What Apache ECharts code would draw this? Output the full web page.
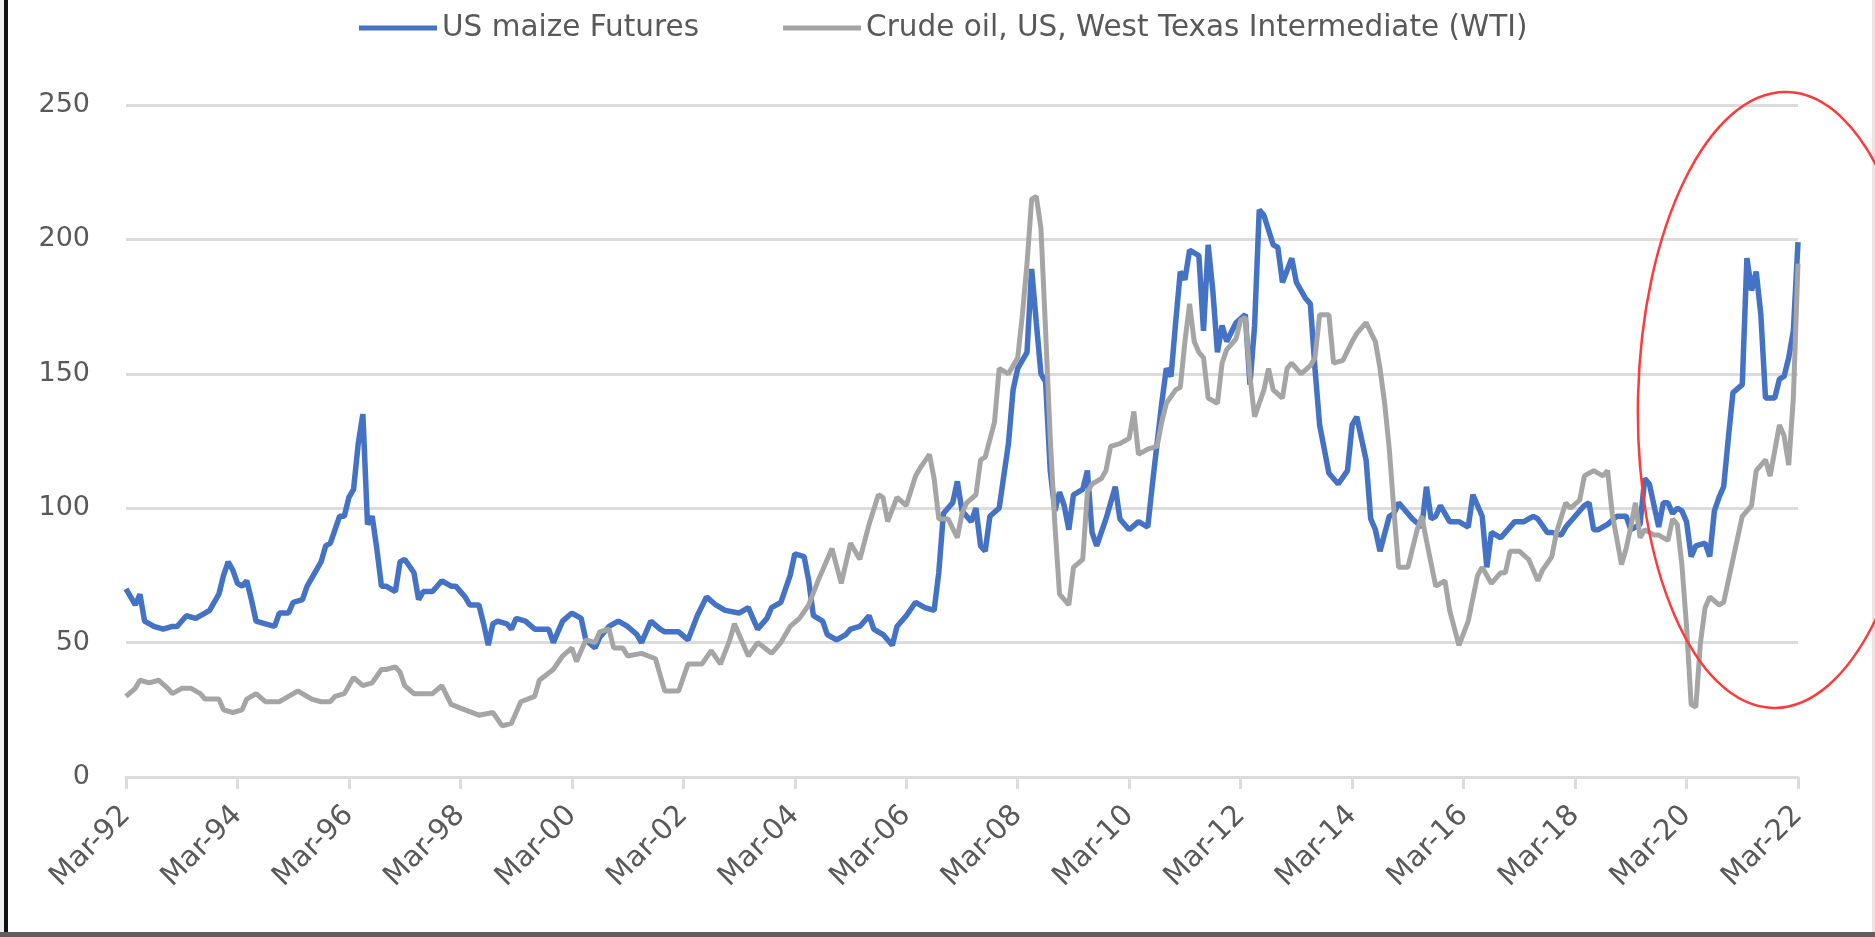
<!DOCTYPE html>
<html>
<head>
<meta charset="utf-8">
<title>US maize futures vs WTI crude oil</title>
<script src="https://cdn.jsdelivr.net/npm/echarts@6/dist/echarts.min.js"></script>
<style>
  html, body { margin: 0; padding: 0; background: #ffffff; }
  #chart { width: 1875px; height: 937px; }
</style>
</head>
<body>
<div id="chart"></div>
<script>
// Index values; x = months elapsed since March 1992
const seriesNames = ['US maize Futures', 'Crude oil, US, West Texas Intermediate (WTI)'];

const tickLabels = ['Mar-92', 'Mar-94', 'Mar-96', 'Mar-98', 'Mar-00', 'Mar-02', 'Mar-04', 'Mar-06',
  'Mar-08', 'Mar-10', 'Mar-12', 'Mar-14', 'Mar-16', 'Mar-18', 'Mar-20', 'Mar-22'];

const maize = [
  [0,70],[2,64],[3,68],[4,58],[6,56],[8,55],[10,56],[11,56],[13,60],[15,59],[17,61],[18,62],
  [20,68],[21,75],[22,80],[23,77],[24,72],[25,71],[26,73],[27,66],[28,58],[30,57],[32,56],[33,61],
  [35,61],[36,65],[38,66],[39,71],[40,74],[42,80],[43,86],[44,87],[46,97],[47,97],[48,104],[49,107],
  [50,124],[51,135],[52,94],[53,97],[54,85],[55,71],[56,71],[58,69],[59,80],[60,81],[62,76],[63,66],
  [64,69],[66,69],[68,73],[70,71],[71,71],[73,67],[74,64],[76,64],[77,57],[78,49],[79,57],[80,58],
  [82,57],[83,55],[84,59],[86,58],[88,55],[91,55],[92,50],[94,58],[96,61],[98,59],[99,51],[101,48],
  [102,52],[104,56],[106,58],[108,56],[110,53],[111,50],[113,58],[115,55],[116,54],[119,54],[121,51],
  [123,60],[125,67],[127,64],[129,62],[132,61],[134,63],[136,55],[138,59],[139,63],[141,65],[143,75],
  [144,83],[146,82],[147,73],[148,60],[150,58],[151,53],[153,51],[155,53],[156,55],[158,56],[160,60],
  [161,55],[163,53],[165,49],[166,56],[168,60],[170,65],[172,63],[174,62],[175,76],[176,98],[178,102],
  [179,110],[180,99],[182,95],[183,100],[184,86],[185,84],[186,97],[188,100],[190,124],[191,144],
  [192,152],[193,155],[194,158],[195,189],[196,169],[197,150],[198,147],[199,114],[200,99],[201,106],
  [202,101],[203,92],[204,105],[206,107],[207,114],[208,91],[209,86],[211,96],[213,108],[214,96],
  [216,92],[218,95],[220,93],[221,109],[223,139],[224,152],[225,149],[226,169],[227,188],[228,185],
  [229,196],[231,194],[232,166],[233,198],[234,181],[235,158],[236,168],[237,162],[239,169],[241,172],
  [242,146],[243,168],[244,211],[245,209],[247,198],[248,197],[249,184],[251,193],[252,184],[254,178],
  [255,176],[256,152],[257,131],[258,122],[259,113],[261,109],[263,114],[264,131],[265,134],[267,118],
  [268,96],[269,92],[270,84],[272,97],[273,98],[274,102],[276,98],[277,96],[279,93],[280,108],[281,96],
  [282,97],[283,101],[285,95],[287,95],[289,93],[290,105],[292,97],[293,78],[294,91],[296,89],[297,91],
  [299,95],[301,95],[302,96],[303,97],[304,96],[306,91],[307,91],[309,90],[310,93],[312,97],[314,101],
  [315,102],[316,92],[317,92],[319,94],[321,97],[323,97],[324,92],[326,94],[327,111],[328,109],[329,101],
  [330,93],[331,102],[332,102],[333,98],[334,100],[335,99],[336,95],[337,82],[338,86],[340,87],[341,82],
  [342,99],[343,104],[344,108],[345,126],[346,143],[348,146],[349,193],[350,181],[351,188],[352,172],
  [353,141],[355,141],[356,148],[357,149],[358,156],[359,166],[360,199]
];

const oil = [
  [0,30],[2,33],[3,36],[5,35],[7,36],[9,33],[10,31],[12,33],[14,33],[16,31],[17,29],[20,29],[21,25],
  [23,24],[25,25],[26,29],[28,31],[30,28],[33,28],[35,30],[37,32],[40,29],[42,28],[44,28],[45,30],
  [47,31],[49,37],[51,34],[53,35],[55,40],[56,40],[58,41],[59,39],[60,34],[62,31],[64,31],[66,31],
  [68,34],[70,27],[73,25],[76,23],[79,24],[81,19],[83,20],[85,28],[88,30],[89,36],[92,40],[94,45],
  [96,48],[97,43],[99,51],[101,50],[102,54],[104,55],[105,48],[107,48],[108,45],[111,46],[114,44],
  [115,38],[116,32],[119,32],[120,37],[121,42],[124,42],[126,47],[128,42],[130,51],[131,57],[134,45],
  [136,50],[139,46],[141,50],[143,56],[145,59],[147,64],[149,73],[152,85],[154,72],[156,87],[158,81],
  [160,94],[162,105],[163,104],[164,95],[166,104],[168,101],[170,112],[171,115],[173,120],[174,111],
  [175,96],[177,96],[179,89],[180,98],[181,102],[183,105],[184,118],[185,119],[187,132],[188,152],
  [189,151],[190,150],[192,156],[193,172],[194,191],[195,215],[196,216],[197,204],[198,166],[199,126],
  [200,94],[201,68],[203,64],[204,78],[206,81],[207,106],[208,109],[210,111],[211,114],[212,123],
  [214,124],[216,126],[217,136],[218,120],[220,122],[222,123],[223,132],[224,139],[226,144],[227,145],
  [228,162],[229,176],[230,162],[231,158],[232,156],[233,141],[235,139],[236,154],[237,159],[239,163],
  [240,170],[241,171],[242,149],[243,134],[245,144],[246,152],[247,144],[249,141],[250,152],[251,154],
  [253,150],[255,153],[256,156],[257,172],[259,172],[260,154],[262,155],[264,162],[265,165],[267,169],
  [269,162],[270,152],[271,139],[272,122],[273,99],[274,78],[276,78],[278,92],[279,97],[280,88],
  [282,71],[284,73],[285,62],[287,49],[289,58],[291,75],[292,78],[294,72],[296,76],[297,76],[298,84],
  [300,84],[302,81],[304,73],[305,77],[307,82],[308,91],[310,102],[311,100],[313,103],[314,112],
  [316,114],[318,112],[319,114],[320,98],[322,79],[323,85],[324,93],[325,102],[326,89],[327,92],
  [329,90],[330,90],[332,88],[333,96],[334,94],[335,79],[336,56],[337,27],[338,26],[339,50],[340,63],
  [341,67],[343,64],[344,65],[346,81],[348,97],[350,101],[351,114],[353,118],[354,112],[356,131],
  [357,127],[358,116],[359,141],[360,191]
];

const FONT = 'DejaVu Sans';
const TEXT_COLOR = '#595959';
const GRID_COLOR = '#dcdcdc';

const chart = echarts.init(document.getElementById('chart'), null, { renderer: 'canvas' });

chart.setOption({
  animation: false,
  backgroundColor: '#ffffff',
  textStyle: { fontFamily: FONT },
  legend: {
    left: 354,
    top: 8,
    itemWidth: 78,
    itemHeight: 5,
    itemGap: 84,
    textStyle: { color: TEXT_COLOR, fontSize: 29.5, fontFamily: FONT },
    data: [
      { name: seriesNames[0], icon: 'rect' },
      { name: seriesNames[1], icon: 'rect' }
    ]
  },
  grid: {
    left: 126,
    right: 77,
    top: 105,
    bottom: 160,
    containLabel: false,
    outerBoundsMode: 'none'
  },
  xAxis: {
    type: 'value',
    min: 0,
    max: 360,
    interval: 24,
    axisLine: { show: true, lineStyle: { color: GRID_COLOR, width: 3 } },
    axisTick: { show: true, length: 12, lineStyle: { color: GRID_COLOR, width: 3 } },
    splitLine: { show: false },
    axisLabel: {
      rotate: 45,
      margin: 34,
      color: TEXT_COLOR,
      fontSize: 29,
      fontFamily: FONT,
      formatter: function (v) {
        const label = tickLabels[Math.round(v / 24)];
        return label === undefined ? '' : label;
      }
    }
  },
  yAxis: {
    type: 'value',
    min: 0,
    max: 250,
    interval: 50,
    axisLine: { show: false },
    axisTick: { show: false },
    splitLine: { show: true, lineStyle: { color: GRID_COLOR, width: 3 } },
    axisLabel: { margin: 36, color: TEXT_COLOR, fontSize: 27, fontFamily: FONT }
  },
  series: [
    {
      name: seriesNames[0],
      type: 'line',
      data: maize,
      showSymbol: false,
      symbol: 'none',
      color: '#4472c4',
      lineStyle: { color: '#4472c4', width: 5.5 },
      z: 3
    },
    {
      name: seriesNames[1],
      type: 'line',
      data: oil,
      showSymbol: false,
      symbol: 'none',
      color: '#a5a5a5',
      lineStyle: { color: '#a5a5a5', width: 5 },
      z: 4
    }
  ],
  graphic: [
    // frame edges
    { type: 'rect', shape: { x: 0, y: 0, width: 4, height: 937 }, style: { fill: '#efefef' }, silent: true },
    { type: 'rect', shape: { x: 4, y: 0, width: 4, height: 933 }, style: { fill: '#111111' }, silent: true },
    { type: 'rect', shape: { x: 0, y: 932, width: 1875, height: 5 }, style: { fill: '#5f5f5f' }, silent: true },
    { type: 'rect', shape: { x: 1872, y: 0, width: 3, height: 932 }, style: { fill: '#e6e6e6' }, silent: true },
    // highlight ring around the recent surge
    {
      type: 'ellipse',
      shape: { cx: 1780, cy: 400, rx: 142, ry: 308 },
      originX: 1780,
      originY: 400,
      rotation: -0.023,
      style: { fill: 'none', stroke: '#ff3a3a', lineWidth: 2.5 },
      silent: true,
      z: 100
    }
  ]
});
</script>
</body>
</html>
